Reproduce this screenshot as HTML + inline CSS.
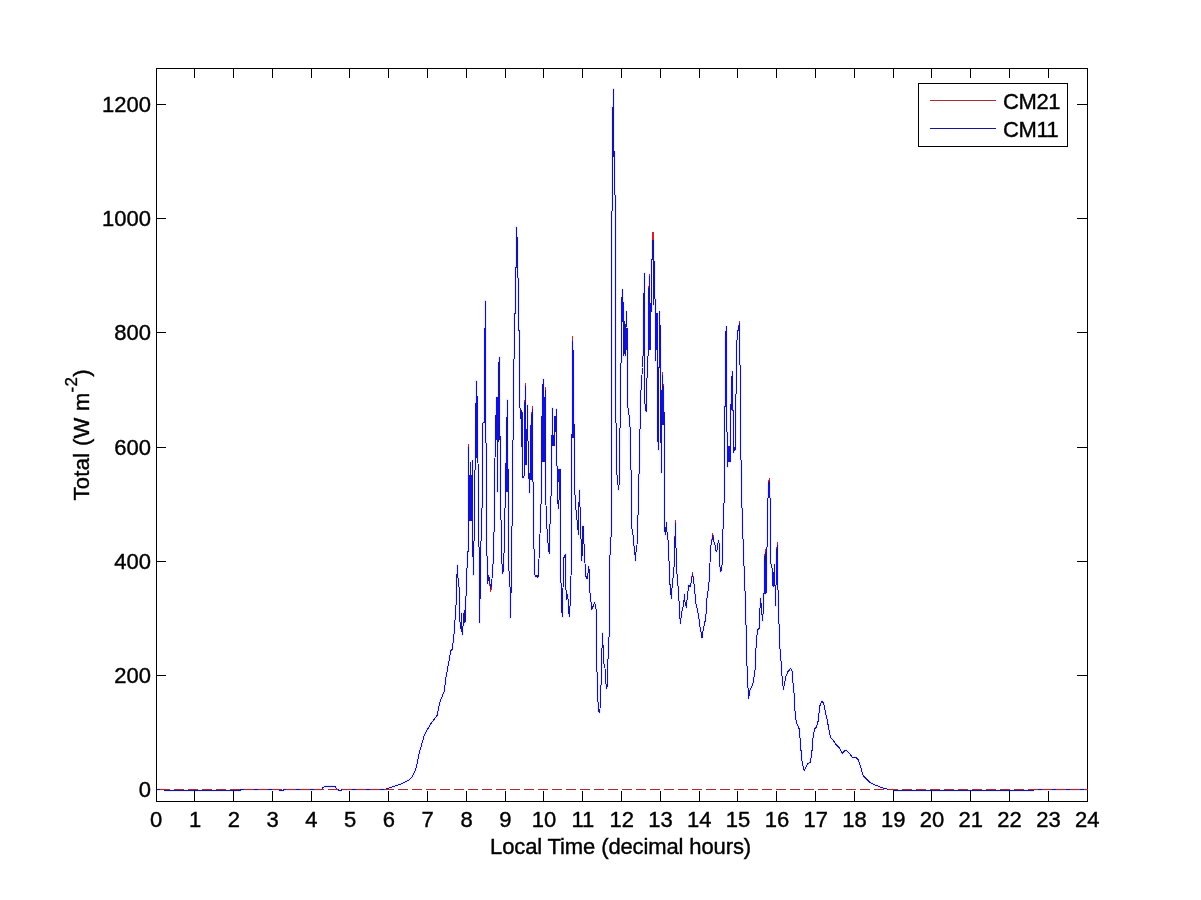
<!DOCTYPE html>
<html><head><meta charset="utf-8"><title>Total irradiance CM21 vs CM11</title>
<style>
html,body{margin:0;padding:0;background:#fff;}
svg{display:block;}
text{font-family:"Liberation Sans",Arial,Helvetica,sans-serif;font-size:22px;fill:#000;stroke:#000;stroke-width:0.4px;}
</style></head><body>
<svg width="1201" height="900" viewBox="0 0 1201 900">
<rect x="0" y="0" width="1201" height="900" fill="#ffffff"/>
<polyline points="156.5,789.5 164,789.5 165,790.5 240,790.5 241,789.5 279.5,789.5 280,790.5 283.5,790.5 284,789.5 321.5,789.5 322.5,788 324.5,786.5 335,786.5 336,788 336.5,789.5 338.5,789.5 339,790.5 341,790.5 341.5,789.5 384,789.5 393.3,786.7 400.7,784 406.7,781.3 410.7,778.7 413,775.3 415.3,770.7 416.7,765.3 418,758.7 419.7,751.3 422,743.3 424.3,735.3 427,730 430.7,724 437.3,715 439.3,704 442,696.7 444.3,691.3 445.6,680 446.7,673.3 450.8,650.8 452.2,649.2 453.7,638.3 454.7,623.3 455.8,611.7 456.7,585 457.3,565 458,578.3 459,586.7 459.7,620 460.8,628.3 461.3,613.3 461.8,628 462.2,635 463.3,623.3 464.2,610.8 465,623.3 465.3,608.3 466.3,590.8 467.5,552.5 468.3,551 468.5,447 469.3,521 470.5,463 471.3,521 472.5,461 472.7,537 473.3,575 474.2,532 474.7,484 475.3,457.5 476.3,381 477,396 477.5,458 478,463 478.7,500 479.5,622.5 480.5,578 481.3,520 482.5,500 483,423 484.2,421.7 484.8,350 485.3,301 485.6,350 485.7,423 485.7,441 486.3,445 486.7,548.3 487.8,573.3 487.8,583.3 488.8,575 489.5,581.7 490.8,588.5 491.7,583 492.5,571.7 493.7,553.3 494.5,500 494.7,478 495.5,426 496.7,400 497,397 497.7,492 498.5,367 499.5,357.5 499.8,440 500.5,437 500.8,510 502,564 502.5,573.3 503.7,569 504.7,516.7 505.3,500 505.5,474 506.3,457 507.3,400 507.5,467 508.3,470 508.7,565.8 510,586.7 510,618.3 511.2,588.3 511.7,535.8 512.8,500 512.8,474 513.3,394 514.2,350 514.2,314 515.5,313.3 515.5,267 516.5,267 516.5,227 517.5,245 517.5,278 518.5,278 518.6,330 519.5,331 519.7,407.5 520.8,410 521.2,427 522,434 522.2,447 522.8,477 523.3,478 524.2,475 524.7,419 525.3,386 525.8,408 526.2,447 526.7,465 527.3,405 527.8,428 528.3,460 529.5,493 530,473 530.8,448 531.3,425 532.3,409 532.7,433 532.7,481 533.3,483 533.7,537.5 534.7,574 535.8,576.7 537,575 538,577.5 538.7,564 539.5,550 540.8,507.5 541.3,500 541.7,450 542.2,396.7 543.3,379.2 544,420 544.5,460 545,425 545.3,390 545.5,461.7 545.8,500 546.7,523.3 547.5,538.3 549.2,553.3 549.7,539 550.5,500 551.2,495 551.7,460 552.5,408.3 552.8,445 553.5,440 554,445 554.7,416.7 555.3,431.7 556.3,409.2 556.3,465 557.5,466.7 557.8,500 558.3,509 559,500 559.5,472 560,469.2 560,500 560.3,573.3 561.3,586.7 561.7,610 562.5,616.7 563,588.3 563.7,558.3 565.5,554.2 565.8,583.3 566.3,600 567.5,594.2 568.3,601.7 569.2,616.7 570,606.7 570.5,590.8 571.3,566.7 571.7,500 571.7,435 572.5,431.7 572.5,341.7 573,350 574.2,436.7 575,495 575.8,508.3 577,520 578.5,534.2 579.2,490 580,506.7 581.3,548.3 581.7,560.8 582.5,550 583,525.8 583.7,539.2 584.5,551.7 585.5,575 587,579.2 588,573.3 588.8,566.7 589.2,570 589.7,590.8 590.8,600 591.7,609.2 593.3,605.8 594.7,602.5 595.5,606.7 596.3,610.8 596.7,661.7 597.5,688.3 598.3,710 599.2,712.5 600,710 600.3,685.8 601.3,684.2 601.7,658.3 602.5,633.3 603,645 603.7,662.5 605,668.3 606.3,688.3 607.2,686.7 607.5,660 608.3,658.3 608.7,637.5 609.6,635 609.6,577.5 610.3,539 611.3,536 611.7,500 611.7,212 612.5,210 612.5,107 613.5,107 613.5,89 613.5,157 614.5,152 614.5,193 615.5,197 615.5,220 615.6,394 616.7,471.7 617.8,483 618.7,490 619.2,483 619.7,470 620.5,365 621.7,361 621.7,302.5 622.5,290 623,303 623.5,320 624,356 624.5,322 625,342 625.3,356 626.3,311.7 627,327 627.3,342 627.4,350 627.5,405 628.7,411.7 630,426.7 630,441.7 630.8,456.7 631.5,500 631.7,526.7 633,535 634.2,547.5 635,555 635.5,560.8 636.3,547.5 637,545 637.5,515.8 638.3,514.2 638.3,500 638.7,481.7 639.7,459 640.3,403 641.3,385 642.5,367.5 643.3,350 643.5,313 644.5,273.3 644.7,350 644.7,402.5 646.2,411.7 646.7,385.8 647.5,366.7 648.3,350 648.3,303 649.5,277 649.7,303 650.5,311 651.5,311 651.5,259 652.5,259 652.5,240.01 653.5,240.01 653.5,305 654.5,262 654.5,299 655.5,299 655.5,313 655.5,361 656.3,313 657,330 657.5,368 657.5,426.7 658.3,450 659,368 659.5,311.7 660.3,333 660.5,350 660.8,421.7 661.3,472.5 661.7,421.7 662.5,376 663.3,391 663.8,423 664.5,424 664.5,529 665.5,535 666.3,522.5 667,531.7 668,540 668.8,555 669.7,581.7 670.8,591.7 671.3,598.3 672.2,585 673.3,575.8 674.5,561.7 675.3,523 675.8,537.5 676.3,563.3 677.5,581.7 678.7,591.7 679.5,615 680.5,623.3 681.3,615 682.5,607.5 683.7,606.7 684.3,594.2 685,601.7 686.3,607.5 687.2,598.3 688.7,585 690,586.7 690.8,584.2 692.5,574.5 693.3,578.3 694.7,590 695.8,603.3 697.5,610 698.8,616.7 700,626.7 701.3,633.3 702,638.3 702.8,631.7 704.2,625 705.8,618.3 706.7,600 707.8,593.3 709.5,577.5 710.5,548.3 711.7,541.7 712.8,535.5 713.8,541.7 715,545 716.2,551.7 717,550 718.3,540.8 719.5,545 720,566.7 720.8,571.7 722,565 722.8,547.5 723.3,504.2 724.5,502.5 724.5,406.7 725.3,405 725.5,339.2 726.3,326.7 726.7,410 726.7,431.7 727.5,433.3 727.5,466.7 728,447 728.7,460 729.3,447 730,462 730.3,450 730.5,431.7 731.3,388.3 732.3,371.7 732.7,410 733.7,411.7 733.7,452.5 734.7,447.5 735.3,450 735.5,424.2 736.3,376.7 737.2,331.7 738.3,330 739.5,324 739.7,365 740.8,365.8 740.8,452.5 741.7,484.2 741.7,497.5 742.5,525 743.7,557.5 744.5,580 745,590.8 745.8,614.2 746.7,658.3 747.8,685 748.7,698.3 750,690 751.7,686.7 753.3,681.7 755,670 756.2,644.2 757.5,630 759.2,628.3 759.7,611.7 760.8,598.3 761.3,610 762.8,620.8 763.7,593.3 764.5,591.7 764.5,563.3 765.3,552 765.8,594 766.7,563.3 767.5,521.7 768.3,485 769.3,481 769.7,497.5 770.5,498.3 770.5,563.3 771.7,565 772.5,573.3 773.3,586.7 774.5,565 775,585 775.8,605.8 776.3,558.3 777.3,545 777.7,583.3 778.3,596.7 779.5,642.5 780.8,658.3 782.2,678.3 783.3,689.2 784.7,682.5 785.8,676.7 787.8,671.7 790.8,668.3 792.2,671.7 793,683.3 793.8,690 794.4,697.33 794.93,710.67 796.27,722.67 798,726 799.33,729.33 800.67,746.67 802,761.33 803.33,768 804.4,770.4 806,767.33 807.33,764 810,762.67 811.33,756 812,750.67 812.93,738.67 814,732 814.93,728.67 816.67,726.67 818.4,720 819.6,706.67 821.07,702.67 822.4,701.07 823.73,704 825.33,712 826.93,718.67 828.67,728 830.4,737.33 832.27,739.33 834,741.33 836,744.67 839.33,748 840.67,750.67 842,753.33 843.33,752 845.33,750 847.33,751.33 849.33,753.33 851.33,756 852.67,758 854.67,757.07 856.67,758 858,759.33 859.33,762.67 860.67,766.67 862,772 863.33,776 865.33,778 867.33,780 869.33,782 872,783.73 875.33,785.07 878.67,786.4 882,787.73 885.33,788.67 888.67,789.33 893,789.5 893.5,790.5 1033,790.5 1034,789.5 1087.5,789.5" fill="none" stroke="#ebebff" stroke-linejoin="round" stroke-width="3"/>
<g stroke="#000" stroke-width="1" fill="none" shape-rendering="crispEdges">
<rect x="156.5" y="68.5" width="931.0" height="733.0"/>
<line x1="194.5" y1="801.5" x2="194.5" y2="791.0"/><line x1="194.5" y1="68.5" x2="194.5" y2="77.5"/>
<line x1="233.5" y1="801.5" x2="233.5" y2="791.0"/><line x1="233.5" y1="68.5" x2="233.5" y2="77.5"/>
<line x1="272.5" y1="801.5" x2="272.5" y2="791.0"/><line x1="272.5" y1="68.5" x2="272.5" y2="77.5"/>
<line x1="311.5" y1="801.5" x2="311.5" y2="791.0"/><line x1="311.5" y1="68.5" x2="311.5" y2="77.5"/>
<line x1="349.5" y1="801.5" x2="349.5" y2="791.0"/><line x1="349.5" y1="68.5" x2="349.5" y2="77.5"/>
<line x1="388.5" y1="801.5" x2="388.5" y2="791.0"/><line x1="388.5" y1="68.5" x2="388.5" y2="77.5"/>
<line x1="427.5" y1="801.5" x2="427.5" y2="791.0"/><line x1="427.5" y1="68.5" x2="427.5" y2="77.5"/>
<line x1="466.5" y1="801.5" x2="466.5" y2="791.0"/><line x1="466.5" y1="68.5" x2="466.5" y2="77.5"/>
<line x1="505.5" y1="801.5" x2="505.5" y2="791.0"/><line x1="505.5" y1="68.5" x2="505.5" y2="77.5"/>
<line x1="543.5" y1="801.5" x2="543.5" y2="791.0"/><line x1="543.5" y1="68.5" x2="543.5" y2="77.5"/>
<line x1="582.5" y1="801.5" x2="582.5" y2="791.0"/><line x1="582.5" y1="68.5" x2="582.5" y2="77.5"/>
<line x1="621.5" y1="801.5" x2="621.5" y2="791.0"/><line x1="621.5" y1="68.5" x2="621.5" y2="77.5"/>
<line x1="660.5" y1="801.5" x2="660.5" y2="791.0"/><line x1="660.5" y1="68.5" x2="660.5" y2="77.5"/>
<line x1="699.5" y1="801.5" x2="699.5" y2="791.0"/><line x1="699.5" y1="68.5" x2="699.5" y2="77.5"/>
<line x1="737.5" y1="801.5" x2="737.5" y2="791.0"/><line x1="737.5" y1="68.5" x2="737.5" y2="77.5"/>
<line x1="776.5" y1="801.5" x2="776.5" y2="791.0"/><line x1="776.5" y1="68.5" x2="776.5" y2="77.5"/>
<line x1="815.5" y1="801.5" x2="815.5" y2="791.0"/><line x1="815.5" y1="68.5" x2="815.5" y2="77.5"/>
<line x1="854.5" y1="801.5" x2="854.5" y2="791.0"/><line x1="854.5" y1="68.5" x2="854.5" y2="77.5"/>
<line x1="893.5" y1="801.5" x2="893.5" y2="791.0"/><line x1="893.5" y1="68.5" x2="893.5" y2="77.5"/>
<line x1="931.5" y1="801.5" x2="931.5" y2="791.0"/><line x1="931.5" y1="68.5" x2="931.5" y2="77.5"/>
<line x1="970.5" y1="801.5" x2="970.5" y2="791.0"/><line x1="970.5" y1="68.5" x2="970.5" y2="77.5"/>
<line x1="1009.5" y1="801.5" x2="1009.5" y2="791.0"/><line x1="1009.5" y1="68.5" x2="1009.5" y2="77.5"/>
<line x1="1048.5" y1="801.5" x2="1048.5" y2="791.0"/><line x1="1048.5" y1="68.5" x2="1048.5" y2="77.5"/>
<line x1="156.5" y1="789.5" x2="165.5" y2="789.5"/><line x1="1087.5" y1="789.5" x2="1077.0" y2="789.5"/>
<line x1="156.5" y1="675.5" x2="165.5" y2="675.5"/><line x1="1087.5" y1="675.5" x2="1077.0" y2="675.5"/>
<line x1="156.5" y1="561.5" x2="165.5" y2="561.5"/><line x1="1087.5" y1="561.5" x2="1077.0" y2="561.5"/>
<line x1="156.5" y1="447.5" x2="165.5" y2="447.5"/><line x1="1087.5" y1="447.5" x2="1077.0" y2="447.5"/>
<line x1="156.5" y1="332.5" x2="165.5" y2="332.5"/><line x1="1087.5" y1="332.5" x2="1077.0" y2="332.5"/>
<line x1="156.5" y1="218.5" x2="165.5" y2="218.5"/><line x1="1087.5" y1="218.5" x2="1077.0" y2="218.5"/>
<line x1="156.5" y1="104.5" x2="165.5" y2="104.5"/><line x1="1087.5" y1="104.5" x2="1077.0" y2="104.5"/>
</g>
<g shape-rendering="crispEdges">
<polyline points="156.5,789.5 164,789.5 165,790.5 240,790.5 241,789.5 279.5,789.5 280,790.5 283.5,790.5 284,789.5 321.5,789.5 322.5,788 324.5,786.5 335,786.5 336,788 336.5,789.5 338.5,789.5 339,790.5 341,790.5 341.5,789.5 384,789.5 393.3,786.7 400.7,784 406.7,781.3 410.7,778.7 413,775.3 415.3,770.7 416.7,765.3 418,758.7 419.7,751.3 422,743.3 424.3,735.3 427,730 430.7,724 437.3,715 439.3,704 442,696.7 444.3,691.3 445.6,680 446.7,673.3 450.8,650.8 452.2,649.2 453.7,638.3 454.7,623.3 455.8,611.7 456.7,585 457.3,565 458,578.3 459,586.7 459.7,620 460.8,628.3 461.3,613.3 461.8,628 462.2,635 463.3,623.3 464.2,610.8 465,623.3 465.3,608.3 466.3,590.8 467.5,552.5 468.3,551 468.5,444.5 469.3,521 470.5,463 471.3,521 472.5,461 472.7,537 473.3,575 474.2,532 474.7,484 475.3,457.5 476.3,381 477,396 477.5,458 478,463 478.7,500 479.5,622.5 480.5,578 481.3,520 482.5,500 483,423 484.2,421.7 484.8,350 485.3,301 485.6,350 485.7,423 485.7,441 486.3,445 486.7,548.3 487.8,573.3 487.8,583.3 488.8,575 489.5,581.7 490.8,591.7 491.7,583 492.5,571.7 493.7,553.3 494.5,500 494.7,478 495.5,426 496.7,400 497,397 497.7,492 498.5,367 499.5,357.5 499.8,440 500.5,437 500.8,510 502,564 502.5,573.3 503.7,569 504.7,516.7 505.3,500 505.5,474 506.3,457 507.3,400 507.5,467 508.3,470 508.7,565.8 510,586.7 510,618.3 511.2,588.3 511.7,535.8 512.8,500 512.8,474 513.3,394 514.2,350 514.2,314 515.5,313.3 515.5,267 516.5,267 516.5,227 517.5,245 517.5,278 518.5,278 518.6,330 519.5,331 519.7,407.5 520.8,410 521.2,427 522,434 522.2,447 522.8,477 523.3,478 524.2,475 524.7,419 525.3,383.3 525.8,408 526.2,447 526.7,465 527.3,405 527.8,428 528.3,460 529.5,493 530,473 530.8,448 531.3,425 532.3,406.7 532.7,433 532.7,481 533.3,483 533.7,537.5 534.7,574 535.8,576.7 537,575 538,577.5 538.7,564 539.5,550 540.8,507.5 541.3,500 541.7,450 542.2,396.7 543.3,379.2 544,420 544.5,460 545,425 545.3,387.5 545.5,461.7 545.8,500 546.7,523.3 547.5,538.3 549.2,553.3 549.7,539 550.5,500 551.2,495 551.7,460 552.5,408.3 552.8,445 553.5,440 554,445 554.7,416.7 555.3,431.7 556.3,409.2 556.3,465 557.5,466.7 557.8,500 558.3,509 559,500 559.5,472 560,469.2 560,500 560.3,573.3 561.3,586.7 561.7,610 562.5,616.7 563,588.3 563.7,558.3 565.5,554.2 565.8,583.3 566.3,600 567.5,594.2 568.3,601.7 569.2,616.7 570,606.7 570.5,590.8 571.3,566.7 571.7,500 571.7,435 572.5,431.7 572.5,336.7 573,350 574.2,436.7 575,495 575.8,508.3 577,520 578.5,534.2 579.2,490 580,506.7 581.3,548.3 581.7,560.8 582.5,550 583,525.8 583.7,539.2 584.5,551.7 585.5,575 587,579.2 588,573.3 588.8,566.7 589.2,570 589.7,590.8 590.8,600 591.7,609.2 593.3,605.8 594.7,602.5 595.5,606.7 596.3,610.8 596.7,661.7 597.5,688.3 598.3,710 599.2,712.5 600,710 600.3,685.8 601.3,684.2 601.7,658.3 602.5,633.3 603,645 603.7,662.5 605,668.3 606.3,688.3 607.2,686.7 607.5,660 608.3,658.3 608.7,637.5 609.6,635 609.6,577.5 610.3,539 611.3,536 611.7,500 611.7,212 612.5,210 612.5,107 613.5,107 613.5,89 613.5,157 614.5,152 614.5,193 615.5,197 615.5,220 615.6,394 616.7,471.7 617.8,483 618.7,490 619.2,483 619.7,470 620.5,365 621.7,361 621.7,302.5 622.5,290 623,303 623.5,320 624,356 624.5,322 625,342 625.3,356 626.3,311.7 627,327 627.3,342 627.4,350 627.5,405 628.7,411.7 630,426.7 630,441.7 630.8,456.7 631.5,500 631.7,526.7 633,535 634.2,547.5 635,555 635.5,560.8 636.3,547.5 637,545 637.5,515.8 638.3,514.2 638.3,500 638.7,481.7 639.7,459 640.3,403 641.3,385 642.5,367.5 643.3,350 643.5,313 644.5,273.3 644.7,350 644.7,402.5 646.2,411.7 646.7,385.8 647.5,366.7 648.3,350 648.3,303 649.5,274.2 649.7,303 650.5,311 651.5,311 651.5,259 652.5,259 652.5,232 653.5,232 653.5,305 654.5,262 654.5,299 655.5,299 655.5,313 655.5,361 656.3,313 657,330 657.5,368 657.5,426.7 658.3,450 659,368 659.5,311.7 660.3,333 660.5,350 660.8,421.7 661.3,472.5 661.7,421.7 662.5,372.5 663.3,391 663.8,423 664.5,424 664.5,529 665.5,535 666.3,522.5 667,531.7 668,540 668.8,555 669.7,581.7 670.8,591.7 671.3,598.3 672.2,585 673.3,575.8 674.5,561.7 675.3,520.8 675.8,537.5 676.3,563.3 677.5,581.7 678.7,591.7 679.5,615 680.5,623.3 681.3,615 682.5,607.5 683.7,606.7 684.3,594.2 685,601.7 686.3,607.5 687.2,598.3 688.7,585 690,586.7 690.8,584.2 692.5,572.5 693.3,578.3 694.7,590 695.8,603.3 697.5,610 698.8,616.7 700,626.7 701.3,633.3 702,638.3 702.8,631.7 704.2,625 705.8,618.3 706.7,600 707.8,593.3 709.5,577.5 710.5,548.3 711.7,541.7 712.8,533.3 713.8,541.7 715,545 716.2,551.7 717,550 718.3,540.8 719.5,545 720,566.7 720.8,571.7 722,565 722.8,547.5 723.3,504.2 724.5,502.5 724.5,406.7 725.3,405 725.5,339.2 726.3,326.7 726.7,410 726.7,431.7 727.5,433.3 727.5,466.7 728,447 728.7,460 729.3,447 730,462 730.3,450 730.5,431.7 731.3,388.3 732.3,371.7 732.7,410 733.7,411.7 733.7,452.5 734.7,447.5 735.3,450 735.5,424.2 736.3,376.7 737.2,331.7 738.3,330 739.5,321.7 739.7,365 740.8,365.8 740.8,452.5 741.7,484.2 741.7,497.5 742.5,525 743.7,557.5 744.5,580 745,590.8 745.8,614.2 746.7,658.3 747.8,685 748.7,698.3 750,690 751.7,686.7 753.3,681.7 755,670 756.2,644.2 757.5,630 759.2,628.3 759.7,611.7 760.8,598.3 761.3,610 762.8,620.8 763.7,593.3 764.5,591.7 764.5,563.3 765.3,549.2 765.8,594 766.7,563.3 767.5,521.7 768.3,485 769.3,478.3 769.7,497.5 770.5,498.3 770.5,563.3 771.7,565 772.5,573.3 773.3,586.7 774.5,565 775,585 775.8,605.8 776.3,558.3 777.3,542.5 777.7,583.3 778.3,596.7 779.5,642.5 780.8,658.3 782.2,678.3 783.3,689.2 784.7,682.5 785.8,676.7 787.8,671.7 790.8,668.3 792.2,671.7 793,683.3 793.8,690 794.4,697.33 794.93,710.67 796.27,722.67 798,726 799.33,729.33 800.67,746.67 802,761.33 803.33,768 804.4,770.4 806,767.33 807.33,764 810,762.67 811.33,756 812,750.67 812.93,738.67 814,732 814.93,728.67 816.67,726.67 818.4,720 819.6,706.67 821.07,702.67 822.4,701.07 823.73,704 825.33,712 826.93,718.67 828.67,728 830.4,737.33 832.27,739.33 834,741.33 836,744.67 839.33,748 840.67,750.67 842,753.33 843.33,752 845.33,750 847.33,751.33 849.33,753.33 851.33,756 852.67,758 854.67,757.07 856.67,758 858,759.33 859.33,762.67 860.67,766.67 862,772 863.33,776 865.33,778 867.33,780 869.33,782 872,783.73 875.33,785.07 878.67,786.4 882,787.73 885.33,788.67 888.67,789.33 893,789.5 893.5,790.5 1033,790.5 1034,789.5 1087.5,789.5" fill="none" stroke="#d81e24" stroke-width="1" stroke-linejoin="round" />
<polyline points="156.5,789.5 164,789.5 165,790.5 240,790.5 241,789.5 279.5,789.5 280,790.5 283.5,790.5 284,789.5 321.5,789.5 322.5,788 324.5,786.5 335,786.5 336,788 336.5,789.5 338.5,789.5 339,790.5 341,790.5 341.5,789.5 384,789.5 393.3,786.7 400.7,784 406.7,781.3 410.7,778.7 413,775.3 415.3,770.7 416.7,765.3 418,758.7 419.7,751.3 422,743.3 424.3,735.3 427,730 430.7,724 437.3,715 439.3,704 442,696.7 444.3,691.3 445.6,680 446.7,673.3 450.8,650.8 452.2,649.2 453.7,638.3 454.7,623.3 455.8,611.7 456.7,585 457.3,565 458,578.3 459,586.7 459.7,620 460.8,628.3 461.3,613.3 461.8,628 462.2,635 463.3,623.3 464.2,610.8 465,623.3 465.3,608.3 466.3,590.8 467.5,552.5 468.3,551 468.5,447 469.3,521 470.5,463 471.3,521 472.5,461 472.7,537 473.3,575 474.2,532 474.7,484 475.3,457.5 476.3,381 477,396 477.5,458 478,463 478.7,500 479.5,622.5 480.5,578 481.3,520 482.5,500 483,423 484.2,421.7 484.8,350 485.3,301 485.6,350 485.7,423 485.7,441 486.3,445 486.7,548.3 487.8,573.3 487.8,583.3 488.8,575 489.5,581.7 490.8,588.5 491.7,583 492.5,571.7 493.7,553.3 494.5,500 494.7,478 495.5,426 496.7,400 497,397 497.7,492 498.5,367 499.5,357.5 499.8,440 500.5,437 500.8,510 502,564 502.5,573.3 503.7,569 504.7,516.7 505.3,500 505.5,474 506.3,457 507.3,400 507.5,467 508.3,470 508.7,565.8 510,586.7 510,618.3 511.2,588.3 511.7,535.8 512.8,500 512.8,474 513.3,394 514.2,350 514.2,314 515.5,313.3 515.5,267 516.5,267 516.5,227 517.5,245 517.5,278 518.5,278 518.6,330 519.5,331 519.7,407.5 520.8,410 521.2,427 522,434 522.2,447 522.8,477 523.3,478 524.2,475 524.7,419 525.3,386 525.8,408 526.2,447 526.7,465 527.3,405 527.8,428 528.3,460 529.5,493 530,473 530.8,448 531.3,425 532.3,409 532.7,433 532.7,481 533.3,483 533.7,537.5 534.7,574 535.8,576.7 537,575 538,577.5 538.7,564 539.5,550 540.8,507.5 541.3,500 541.7,450 542.2,396.7 543.3,379.2 544,420 544.5,460 545,425 545.3,390 545.5,461.7 545.8,500 546.7,523.3 547.5,538.3 549.2,553.3 549.7,539 550.5,500 551.2,495 551.7,460 552.5,408.3 552.8,445 553.5,440 554,445 554.7,416.7 555.3,431.7 556.3,409.2 556.3,465 557.5,466.7 557.8,500 558.3,509 559,500 559.5,472 560,469.2 560,500 560.3,573.3 561.3,586.7 561.7,610 562.5,616.7 563,588.3 563.7,558.3 565.5,554.2 565.8,583.3 566.3,600 567.5,594.2 568.3,601.7 569.2,616.7 570,606.7 570.5,590.8 571.3,566.7 571.7,500 571.7,435 572.5,431.7 572.5,341.7 573,350 574.2,436.7 575,495 575.8,508.3 577,520 578.5,534.2 579.2,490 580,506.7 581.3,548.3 581.7,560.8 582.5,550 583,525.8 583.7,539.2 584.5,551.7 585.5,575 587,579.2 588,573.3 588.8,566.7 589.2,570 589.7,590.8 590.8,600 591.7,609.2 593.3,605.8 594.7,602.5 595.5,606.7 596.3,610.8 596.7,661.7 597.5,688.3 598.3,710 599.2,712.5 600,710 600.3,685.8 601.3,684.2 601.7,658.3 602.5,633.3 603,645 603.7,662.5 605,668.3 606.3,688.3 607.2,686.7 607.5,660 608.3,658.3 608.7,637.5 609.6,635 609.6,577.5 610.3,539 611.3,536 611.7,500 611.7,212 612.5,210 612.5,107 613.5,107 613.5,89 613.5,157 614.5,152 614.5,193 615.5,197 615.5,220 615.6,394 616.7,471.7 617.8,483 618.7,490 619.2,483 619.7,470 620.5,365 621.7,361 621.7,302.5 622.5,290 623,303 623.5,320 624,356 624.5,322 625,342 625.3,356 626.3,311.7 627,327 627.3,342 627.4,350 627.5,405 628.7,411.7 630,426.7 630,441.7 630.8,456.7 631.5,500 631.7,526.7 633,535 634.2,547.5 635,555 635.5,560.8 636.3,547.5 637,545 637.5,515.8 638.3,514.2 638.3,500 638.7,481.7 639.7,459 640.3,403 641.3,385 642.5,367.5 643.3,350 643.5,313 644.5,273.3 644.7,350 644.7,402.5 646.2,411.7 646.7,385.8 647.5,366.7 648.3,350 648.3,303 649.5,277 649.7,303 650.5,311 651.5,311 651.5,259 652.5,259 652.5,240.01 653.5,240.01 653.5,305 654.5,262 654.5,299 655.5,299 655.5,313 655.5,361 656.3,313 657,330 657.5,368 657.5,426.7 658.3,450 659,368 659.5,311.7 660.3,333 660.5,350 660.8,421.7 661.3,472.5 661.7,421.7 662.5,376 663.3,391 663.8,423 664.5,424 664.5,529 665.5,535 666.3,522.5 667,531.7 668,540 668.8,555 669.7,581.7 670.8,591.7 671.3,598.3 672.2,585 673.3,575.8 674.5,561.7 675.3,523 675.8,537.5 676.3,563.3 677.5,581.7 678.7,591.7 679.5,615 680.5,623.3 681.3,615 682.5,607.5 683.7,606.7 684.3,594.2 685,601.7 686.3,607.5 687.2,598.3 688.7,585 690,586.7 690.8,584.2 692.5,574.5 693.3,578.3 694.7,590 695.8,603.3 697.5,610 698.8,616.7 700,626.7 701.3,633.3 702,638.3 702.8,631.7 704.2,625 705.8,618.3 706.7,600 707.8,593.3 709.5,577.5 710.5,548.3 711.7,541.7 712.8,535.5 713.8,541.7 715,545 716.2,551.7 717,550 718.3,540.8 719.5,545 720,566.7 720.8,571.7 722,565 722.8,547.5 723.3,504.2 724.5,502.5 724.5,406.7 725.3,405 725.5,339.2 726.3,326.7 726.7,410 726.7,431.7 727.5,433.3 727.5,466.7 728,447 728.7,460 729.3,447 730,462 730.3,450 730.5,431.7 731.3,388.3 732.3,371.7 732.7,410 733.7,411.7 733.7,452.5 734.7,447.5 735.3,450 735.5,424.2 736.3,376.7 737.2,331.7 738.3,330 739.5,324 739.7,365 740.8,365.8 740.8,452.5 741.7,484.2 741.7,497.5 742.5,525 743.7,557.5 744.5,580 745,590.8 745.8,614.2 746.7,658.3 747.8,685 748.7,698.3 750,690 751.7,686.7 753.3,681.7 755,670 756.2,644.2 757.5,630 759.2,628.3 759.7,611.7 760.8,598.3 761.3,610 762.8,620.8 763.7,593.3 764.5,591.7 764.5,563.3 765.3,552 765.8,594 766.7,563.3 767.5,521.7 768.3,485 769.3,481 769.7,497.5 770.5,498.3 770.5,563.3 771.7,565 772.5,573.3 773.3,586.7 774.5,565 775,585 775.8,605.8 776.3,558.3 777.3,545 777.7,583.3 778.3,596.7 779.5,642.5 780.8,658.3 782.2,678.3 783.3,689.2 784.7,682.5 785.8,676.7 787.8,671.7 790.8,668.3 792.2,671.7 793,683.3 793.8,690 794.4,697.33 794.93,710.67 796.27,722.67 798,726 799.33,729.33 800.67,746.67 802,761.33 803.33,768 804.4,770.4 806,767.33 807.33,764 810,762.67 811.33,756 812,750.67 812.93,738.67 814,732 814.93,728.67 816.67,726.67 818.4,720 819.6,706.67 821.07,702.67 822.4,701.07 823.73,704 825.33,712 826.93,718.67 828.67,728 830.4,737.33 832.27,739.33 834,741.33 836,744.67 839.33,748 840.67,750.67 842,753.33 843.33,752 845.33,750 847.33,751.33 849.33,753.33 851.33,756 852.67,758 854.67,757.07 856.67,758 858,759.33 859.33,762.67 860.67,766.67 862,772 863.33,776 865.33,778 867.33,780 869.33,782 872,783.73 875.33,785.07 878.67,786.4 882,787.73 885.33,788.67 888.67,789.33 893,789.5 893.5,790.5 1033,790.5 1034,789.5 1087.5,789.5" fill="none" stroke="#15159a" stroke-width="1" stroke-linejoin="round" />
<polyline points="468.7,475 469.2,521 469.7,475 470.2,521 470.7,475 471.2,521 471.7,475 472.2,521" fill="none" stroke="#1010d8" stroke-width="1" stroke-linejoin="round" />
<polyline points="476.5,396 477,458 477.5,396" fill="none" stroke="#1010d8" stroke-width="1" stroke-linejoin="round" />
<polyline points="484.2,328 484.7,423 485.2,328" fill="none" stroke="#1010d8" stroke-width="1" stroke-linejoin="round" />
<polyline points="496.3,397 496.8,440 497.3,397 497.8,440 498.3,397 498.8,440 499.3,397" fill="none" stroke="#1010d8" stroke-width="1" stroke-linejoin="round" />
<polyline points="506,455 506.5,492 507,455 507.5,492 508,455" fill="none" stroke="#1010d8" stroke-width="1" stroke-linejoin="round" />
<polyline points="521,410 521.5,447 522,410 522.5,447" fill="none" stroke="#1010d8" stroke-width="1" stroke-linejoin="round" />
<polyline points="524.5,420 525,465 525.5,420 526,465" fill="none" stroke="#1010d8" stroke-width="1" stroke-linejoin="round" />
<polyline points="530,425 530.5,480 531,425 531.5,480 532,425" fill="none" stroke="#1010d8" stroke-width="1" stroke-linejoin="round" />
<polyline points="542.2,397 542.7,462 543.2,397 543.7,462 544.2,397 544.7,462 545.2,397" fill="none" stroke="#1010d8" stroke-width="1" stroke-linejoin="round" />
<polyline points="551.7,435 552.2,446 552.7,435 553.2,446 553.7,435 554.2,446 554.7,435" fill="none" stroke="#1010d8" stroke-width="1" stroke-linejoin="round" />
<polyline points="554.7,417 555.2,432 555.7,417" fill="none" stroke="#1010d8" stroke-width="1" stroke-linejoin="round" />
<polyline points="558.8,469 559.3,500 559.8,469 560.3,500" fill="none" stroke="#1010d8" stroke-width="1" stroke-linejoin="round" />
<polyline points="572,350 572.5,437 573,350 573.5,437 574,350" fill="none" stroke="#1010d8" stroke-width="1" stroke-linejoin="round" />
<polyline points="621.7,302 622.2,322 622.7,302 623.2,322 623.7,302" fill="none" stroke="#1010d8" stroke-width="1" stroke-linejoin="round" />
<polyline points="625,328 625.5,350 626,328 626.5,350 627,328 627.5,350" fill="none" stroke="#1010d8" stroke-width="1" stroke-linejoin="round" />
<polyline points="643.3,313 643.8,350 644.3,313 644.8,350" fill="none" stroke="#1010d8" stroke-width="1" stroke-linejoin="round" />
<polyline points="648,303 648.5,350 649,303 649.5,350 650,303 650.5,350 651,303" fill="none" stroke="#1010d8" stroke-width="1" stroke-linejoin="round" />
<polyline points="655.8,313 656.3,350 656.8,313 657.3,350 657.8,313" fill="none" stroke="#1010d8" stroke-width="1" stroke-linejoin="round" />
<polyline points="659.2,350 659.7,368 660.2,350 660.7,368" fill="none" stroke="#1010d8" stroke-width="1" stroke-linejoin="round" />
<polyline points="661.7,390 662.2,425 662.7,390 663.2,425 663.7,390 664.2,425" fill="none" stroke="#1010d8" stroke-width="1" stroke-linejoin="round" />
<polyline points="725.3,339 725.8,407 726.3,339 726.8,407" fill="none" stroke="#1010d8" stroke-width="1" stroke-linejoin="round" />
<polyline points="727.5,447 728,462 728.5,447 729,462 729.5,447 730,462 730.5,447 731,462" fill="none" stroke="#1010d8" stroke-width="1" stroke-linejoin="round" />
<polyline points="731.3,388 731.8,410 732.3,388 732.8,410" fill="none" stroke="#1010d8" stroke-width="1" stroke-linejoin="round" />
<polyline points="768.3,485 768.8,497 769.3,485 769.8,497" fill="none" stroke="#1010d8" stroke-width="1" stroke-linejoin="round" />
<polyline points="764.5,563 765,594 765.5,563 766,594 766.5,563" fill="none" stroke="#1010d8" stroke-width="1" stroke-linejoin="round" />
<polyline points="772.5,573 773,586 773.5,573 774,586 774.5,573 775,586" fill="none" stroke="#1010d8" stroke-width="1" stroke-linejoin="round" />
<polyline points="776.3,558 776.8,583 777.3,558 777.8,583" fill="none" stroke="#1010d8" stroke-width="1" stroke-linejoin="round" />
<line x1="156.5" y1="789.5" x2="1087.5" y2="789.5" stroke="#b02830" stroke-width="1" stroke-dasharray="10 4" stroke-dashoffset="10.5"/>
</g>
<g>
<text transform="translate(156.2,827) scale(1,1)" text-anchor="middle">0</text><text transform="translate(195,827) scale(1,1)" text-anchor="middle">1</text><text transform="translate(233.8,827) scale(1,1)" text-anchor="middle">2</text><text transform="translate(272.6,827) scale(1,1)" text-anchor="middle">3</text><text transform="translate(311.4,827) scale(1,1)" text-anchor="middle">4</text><text transform="translate(350.2,827) scale(1,1)" text-anchor="middle">5</text><text transform="translate(388.9,827) scale(1,1)" text-anchor="middle">6</text><text transform="translate(427.7,827) scale(1,1)" text-anchor="middle">7</text><text transform="translate(466.5,827) scale(1,1)" text-anchor="middle">8</text><text transform="translate(505.3,827) scale(1,1)" text-anchor="middle">9</text><text transform="translate(544.1,827) scale(1,1)" text-anchor="middle">10</text><text transform="translate(582.9,827) scale(1,1)" text-anchor="middle">11</text><text transform="translate(621.7,827) scale(1,1)" text-anchor="middle">12</text><text transform="translate(660.5,827) scale(1,1)" text-anchor="middle">13</text><text transform="translate(699.3,827) scale(1,1)" text-anchor="middle">14</text><text transform="translate(738.1,827) scale(1,1)" text-anchor="middle">15</text><text transform="translate(776.9,827) scale(1,1)" text-anchor="middle">16</text><text transform="translate(815.7,827) scale(1,1)" text-anchor="middle">17</text><text transform="translate(854.5,827) scale(1,1)" text-anchor="middle">18</text><text transform="translate(893.2,827) scale(1,1)" text-anchor="middle">19</text><text transform="translate(932,827) scale(1,1)" text-anchor="middle">20</text><text transform="translate(970.8,827) scale(1,1)" text-anchor="middle">21</text><text transform="translate(1009.6,827) scale(1,1)" text-anchor="middle">22</text><text transform="translate(1048.4,827) scale(1,1)" text-anchor="middle">23</text><text transform="translate(1087.2,827) scale(1,1)" text-anchor="middle">24</text>
</g>
<g>
<text transform="translate(151,797) scale(1,1)" text-anchor="end">0</text><text transform="translate(151,682.8) scale(1,1)" text-anchor="end">200</text><text transform="translate(151,568.7) scale(1,1)" text-anchor="end">400</text><text transform="translate(151,454.5) scale(1,1)" text-anchor="end">600</text><text transform="translate(151,340.3) scale(1,1)" text-anchor="end">800</text><text transform="translate(151,226.2) scale(1,1)" text-anchor="end">1000</text><text transform="translate(151,112) scale(1,1)" text-anchor="end">1200</text>
</g>
<text transform="translate(620.5,854) scale(1,1)" text-anchor="middle" letter-spacing="-0.12">Local Time (decimal hours)</text>
<text transform="translate(88.5,500.5) rotate(-90) scale(1,1)" letter-spacing="0.3">Total (W m<tspan dy="-11.5" font-size="17px">-2</tspan><tspan dy="11.5">)</tspan></text>
<g shape-rendering="crispEdges"><rect x="918.5" y="83.5" width="149" height="63" fill="#fff" stroke="#000" stroke-width="1"/>
<line x1="930" y1="100.5" x2="996" y2="100.5" stroke="#b02830"/><line x1="930" y1="128.5" x2="996" y2="128.5" stroke="#15159a"/></g>
<text transform="translate(1003,109) scale(1,1)" letter-spacing="-0.4">CM21</text><text transform="translate(1003,137) scale(1,1)" letter-spacing="-0.4">CM11</text>
</svg></body></html>
